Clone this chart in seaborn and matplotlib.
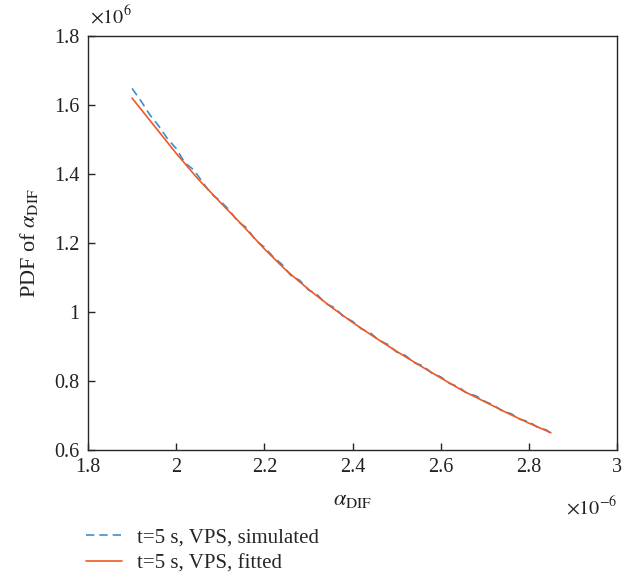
import matplotlib
matplotlib.use("Agg")
import matplotlib.pyplot as plt
import seaborn as sns
import pandas as pd
from matplotlib.ticker import FuncFormatter, FixedLocator

# alpha_DIF in units of 1e-6, PDF in units of 1e6
x_sim = [1.90, 1.92, 1.94, 1.96, 1.98, 2.00, 2.02, 2.04, 2.06, 2.08,
         2.10, 2.12, 2.14, 2.16, 2.18, 2.20, 2.22, 2.24, 2.26, 2.28,
         2.30, 2.32, 2.34, 2.36, 2.38, 2.40, 2.42, 2.44, 2.46, 2.48,
         2.50, 2.52, 2.54, 2.56, 2.58, 2.60, 2.62, 2.64, 2.66, 2.68,
         2.70, 2.72, 2.74, 2.76, 2.78, 2.80, 2.82, 2.84, 2.85]
y_sim = [1.648, 1.612, 1.572, 1.540, 1.503, 1.474, 1.432, 1.412, 1.376, 1.342,
         1.322, 1.296, 1.262, 1.244, 1.208, 1.188, 1.160, 1.138, 1.106, 1.092,
         1.064, 1.050, 1.024, 1.012, 0.986, 0.973, 0.951, 0.940, 0.918, 0.906,
         0.884, 0.874, 0.853, 0.844, 0.823, 0.812, 0.793, 0.783, 0.764, 0.757,
         0.741, 0.730, 0.713, 0.705, 0.689, 0.682, 0.666, 0.658, 0.649]

x_fit = [1.90, 1.95, 2.00, 2.05, 2.10, 2.15, 2.20, 2.25, 2.30, 2.35,
         2.40, 2.45, 2.50, 2.55, 2.60, 2.65, 2.70, 2.75, 2.80, 2.85]
y_fit = [1.620, 1.540, 1.460, 1.385, 1.318, 1.252, 1.183, 1.120, 1.066, 1.016,
         0.970, 0.927, 0.886, 0.847, 0.809, 0.772, 0.740, 0.708, 0.678, 0.650]

label_sim = "t=5 s, VPS, simulated"
label_fit = "t=5 s, VPS, fitted"
x_ticks = [1.8, 2.0, 2.2, 2.4, 2.6, 2.8, 3.0]
y_ticks = [0.6, 0.8, 1.0, 1.2, 1.4, 1.6, 1.8]

sns.set_style("white")
plt.rcParams["font.family"] = ["Liberation Serif", "DejaVu Serif"]
plt.rcParams["mathtext.fontset"] = "stix"

fig = plt.figure(figsize=(6.24, 5.8), dpi=100)
ax = fig.add_axes([88/624, 1 - 450/580, (617-88)/624, (450-36)/580])

df_sim = pd.DataFrame({"x": x_sim, "y": y_sim})
df_fit = pd.DataFrame({"x": x_fit, "y": y_fit})

sns.lineplot(data=df_sim, x="x", y="y", ax=ax, color="#3d8fd1", lw=1.2,
             linestyle=(0, (5, 3)), label=label_sim, sort=False)
sns.lineplot(data=df_fit, x="x", y="y", ax=ax, color="#ee5a22", lw=1.2,
             label=label_fit, sort=False)

ax.set_xlim(1.8, 3.0)
ax.set_ylim(0.6, 1.8)
ax.xaxis.set_major_locator(FixedLocator(x_ticks))
ax.yaxis.set_major_locator(FixedLocator(y_ticks))
fmt = FuncFormatter(lambda v, p: "%g" % round(v, 3))
ax.xaxis.set_major_formatter(fmt)
ax.yaxis.set_major_formatter(fmt)
ax.tick_params(direction="in", length=5, width=1, colors="#262626",
               labelsize=14.5, bottom=True, left=True, top=False, right=False, pad=6)
for tl in ax.get_xticklabels() + ax.get_yticklabels():
    tl.set_color("#222222")
for s in ax.spines.values():
    s.set_color("#262626")
    s.set_linewidth(1.0)

ax.set_xlabel(r"$\alpha_{\mathrm{DIF}}$", fontsize=16, labelpad=10, color="#222222")
ax.set_ylabel(r"PDF of $\alpha_{\mathrm{DIF}}$", fontsize=16, labelpad=10, color="#222222")

fig.text(90/624, 1 - 17/580, r"$\times10^{6}$", fontsize=14.5, ha="left", va="center", color="#222222")
fig.text(618/624, 1 - 508/580, r"$\times10^{-6}$", fontsize=14.5, ha="right", va="center", color="#222222")

ax.get_legend().remove()
h, l = ax.get_legend_handles_labels()
fig.legend(h, l, loc="upper left", bbox_to_anchor=(86/624, 1 - 528/580),
           frameon=False, fontsize=15, handlelength=1.75, handletextpad=0.7,
           labelspacing=0.3, borderaxespad=0, borderpad=0)

fig.savefig("out.png", dpi=100)
